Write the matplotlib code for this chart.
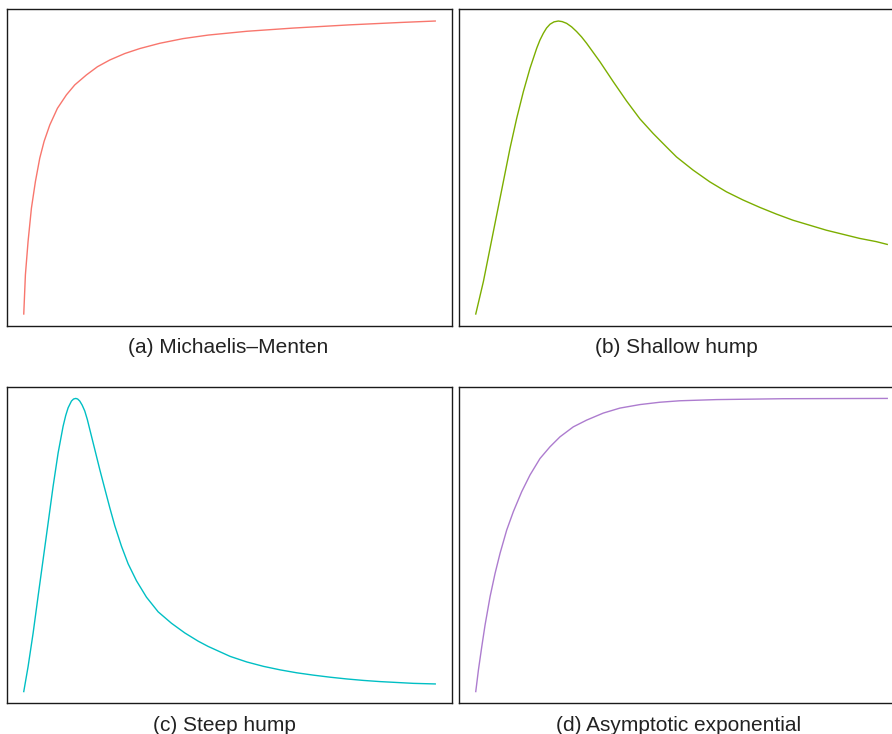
import numpy as np
import matplotlib
matplotlib.use('Agg')
import matplotlib.pyplot as plt

# values, x scaled to 0..10, y scaled to 0..1
mm_x = [0, 0.040, 0.105, 0.186, 0.283, 0.389, 0.494, 0.632, 0.818, 1.037,
        1.240, 1.523, 1.791, 2.091, 2.455, 2.820, 3.306, 3.874, 4.481,
        5.421, 6.556, 7.934, 9.149, 10.0]
mm_y = [0, 0.134, 0.248, 0.361, 0.452, 0.532, 0.589, 0.645, 0.702, 0.748,
        0.782, 0.816, 0.844, 0.867, 0.889, 0.906, 0.924, 0.940, 0.952,
        0.965, 0.976, 0.987, 0.995, 1.0]

shallow_x = [0, 0.186, 0.348, 0.510, 0.671, 0.833, 0.995, 1.157, 1.319,
             1.481, 1.560, 1.642, 1.720, 1.804, 1.900, 2.006, 2.100, 2.209,
             2.330, 2.451, 2.570, 2.694, 3.018, 3.341, 3.665, 3.989, 4.312,
             4.636, 4.879, 5.283, 5.688, 6.092, 6.497, 6.901, 7.306, 7.710,
             8.115, 8.519, 8.924, 9.328, 9.733, 10.0]
shallow_y = [0, 0.111, 0.225, 0.339, 0.452, 0.566, 0.668, 0.759, 0.839,
             0.907, 0.935, 0.958, 0.976, 0.989, 0.997, 1.0, 0.998, 0.992,
             0.980, 0.964, 0.946, 0.924, 0.861, 0.793, 0.727, 0.666, 0.616,
             0.570, 0.536, 0.491, 0.451, 0.417, 0.389, 0.364, 0.341, 0.320,
             0.303, 0.286, 0.272, 0.258, 0.247, 0.2375]

steep_x = [0, 0.105, 0.227, 0.348, 0.470, 0.592, 0.713, 0.835, 0.956, 1.020,
           1.078, 1.159, 1.210, 1.264, 1.310, 1.361, 1.420, 1.483, 1.545,
           1.605, 1.726, 1.848, 1.969, 2.091, 2.212, 2.374, 2.536, 2.739,
           2.982, 3.266, 3.590, 3.914, 4.238, 4.481, 5.016, 5.421, 5.826,
           6.232, 6.637, 7.042, 7.447, 7.853, 8.258, 8.663, 9.068, 9.473, 10.0]
steep_y = [0, 0.085, 0.199, 0.325, 0.450, 0.575, 0.700, 0.814, 0.905, 0.942,
           0.968, 0.991, 0.998, 1.0, 0.998, 0.991, 0.977, 0.957, 0.928,
           0.894, 0.826, 0.757, 0.692, 0.627, 0.566, 0.496, 0.436, 0.378,
           0.322, 0.272, 0.233, 0.200, 0.172, 0.154, 0.120, 0.101, 0.086,
           0.074, 0.064, 0.056, 0.049, 0.043, 0.038, 0.034, 0.031, 0.028, 0.026]

asym_x = [0, 0.065, 0.146, 0.226, 0.348, 0.469, 0.591, 0.752, 0.914, 1.117,
          1.319, 1.561, 1.804, 2.047, 2.370, 2.694, 3.099, 3.503, 3.989,
          4.474, 4.959, 5.850, 7.467, 10.0]
asym_y = [0, 0.074, 0.153, 0.227, 0.324, 0.403, 0.472, 0.551, 0.614, 0.682,
          0.739, 0.795, 0.835, 0.869, 0.903, 0.926, 0.950, 0.967, 0.979,
          0.987, 0.992, 0.996, 0.999, 1.0]

captions = ['(a) Michaelis\u2013Menten', '(b) Shallow hump',
            '(c) Steep hump', '(d) Asymptotic exponential']
colors = ['#F8766D', '#7CAE00', '#00BFC4', '#AD7CCF']

W, H = 892, 734
fig = plt.figure(figsize=(W / 100, H / 100), dpi=100)

# axes boxes in pixels: left, top, width, height (right column runs off the edge)
boxes = [(7.3, 9.3, 444.4, 316.4), (459.3, 9.3, 444.4, 316.4),
         (7.3, 386.7, 444.4, 316.6), (459.3, 386.7, 444.4, 316.6)]
caption_pos = [(227.7, 347.2), (676.3, 347.2), (224.5, 725.3), (678.3, 725.3)]

series = [(mm_x, mm_y), (shallow_x, shallow_y),
          (steep_x, steep_y), (asym_x, asym_y)]

for i in range(4):
    l, t, w, h = boxes[i]
    ax = fig.add_axes([l / W, (H - t - h) / H, w / W, h / H])
    xs, ys = series[i]
    ax.plot(xs, ys, color=colors[i], lw=1.0, solid_joinstyle='round')
    ax.set_xlim(-0.4, 10.4)
    ax.set_ylim(-0.04, 1.04)
    ax.set_xticks([])
    ax.set_yticks([])
    for s in ax.spines.values():
        s.set_color('#1a1a1a')
        s.set_linewidth(1.0)

    cx, cy = caption_pos[i]
    fig.text(cx / W, 1 - cy / H, captions[i], ha='center', va='center',
             fontsize=15, family='Liberation Sans', color='#222222')

plt.savefig('out.png', dpi=100)
